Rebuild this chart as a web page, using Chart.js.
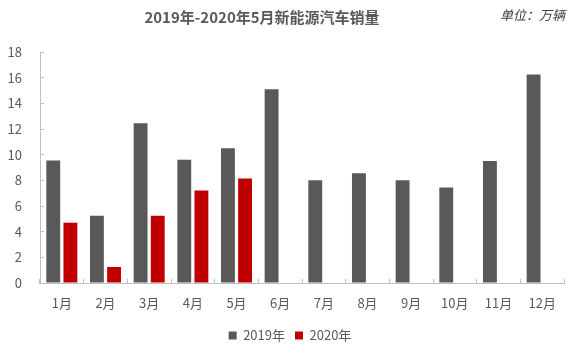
<!DOCTYPE html>
<html>
<head>
<meta charset="utf-8">
<script src="https://cdn.jsdelivr.net/npm/chart.js@4"></script>
<style>
  body { margin: 0; background: #fff; }
  #wrap { width: 577px; height: 359px; }
</style>
</head>
<body>
<div id="wrap"><canvas id="c" width="577" height="359"></canvas></div>
<script>
var months = ["1月", "2月", "3月", "4月", "5月", "6月", "7月", "8月", "9月", "10月", "11月", "12月"];
var sales2019 = [9.55, 5.25, 12.45, 9.6, 10.5, 15.1, 8.0, 8.55, 8.0, 7.45, 9.5, 16.25];
var sales2020 = [4.7, 1.25, 5.25, 7.2, 8.15];
var yTicks = [0, 2, 4, 6, 8, 10, 12, 14, 16, 18];

var font = "'Noto Sans CJK SC', 'Noto Sans', sans-serif";

// unit label top right + nudge title / legend to where the original has them
var extras = {
  id: 'extras',
  afterLayout: function(chart) {
    chart.titleBlock.left -= 20;
    chart.titleBlock.right -= 20;
    chart.legend.left += 8;
    chart.legend.right += 8;
  },
  afterDraw: function(chart) {
    var ctx = chart.ctx;
    ctx.save();
    ctx.font = "italic 13px " + font;
    ctx.fillStyle = "#404040";
    ctx.textAlign = "right";
    ctx.textBaseline = "middle";
    ctx.fillText("单位：万辆", 565, 15);
    ctx.restore();
  }
};

new Chart(document.getElementById("c"), {
  type: 'bar',
  data: {
    labels: months,
    datasets: [
      { label: "2019年", data: sales2019, backgroundColor: "#595959" },
      { label: "2020年", data: sales2020, backgroundColor: "#c00000" }
    ]
  },
  options: {
    responsive: false,
    animation: false,
    layout: { padding: { left: 0, right: 13, top: 0, bottom: 7 } },
    datasets: { bar: { categoryPercentage: 0.785, barPercentage: 0.81 } },
    plugins: {
      title: {
        display: true,
        text: "2019年-2020年5月新能源汽车销量",
        color: "#595959",
        font: { family: font, size: 15, weight: "bold" },
        padding: { top: 8, bottom: 26 }
      },
      legend: {
        position: 'bottom',
        labels: {
          boxWidth: 8, boxHeight: 8,
          color: "#595959",
          font: { family: font, size: 13 },
          padding: 10
        }
      },
      tooltip: { enabled: false }
    },
    scales: {
      x: {
        afterFit: function(axis) { axis.height = 36; },
        grid: { display: true, offset: true, drawOnChartArea: false, tickLength: -4, color: "#bfbfbf" },
        border: { color: "#bfbfbf" },
        ticks: { color: "#595959", font: { family: font, size: 13 }, padding: 16 }
      },
      y: {
        min: 0, max: 18,
        afterFit: function(axis) { axis.width = 40; },
        afterBuildTicks: function(axis) { axis.ticks = yTicks.map(function(v) { return { value: v }; }); },
        grid: { display: true, drawOnChartArea: false, tickLength: -4, color: "#bfbfbf" },
        border: { color: "#bfbfbf" },
        ticks: { color: "#595959", font: { family: font, size: 13 }, padding: 22 }
      }
    }
  },
  plugins: [extras]
});
</script>
</body>
</html>
